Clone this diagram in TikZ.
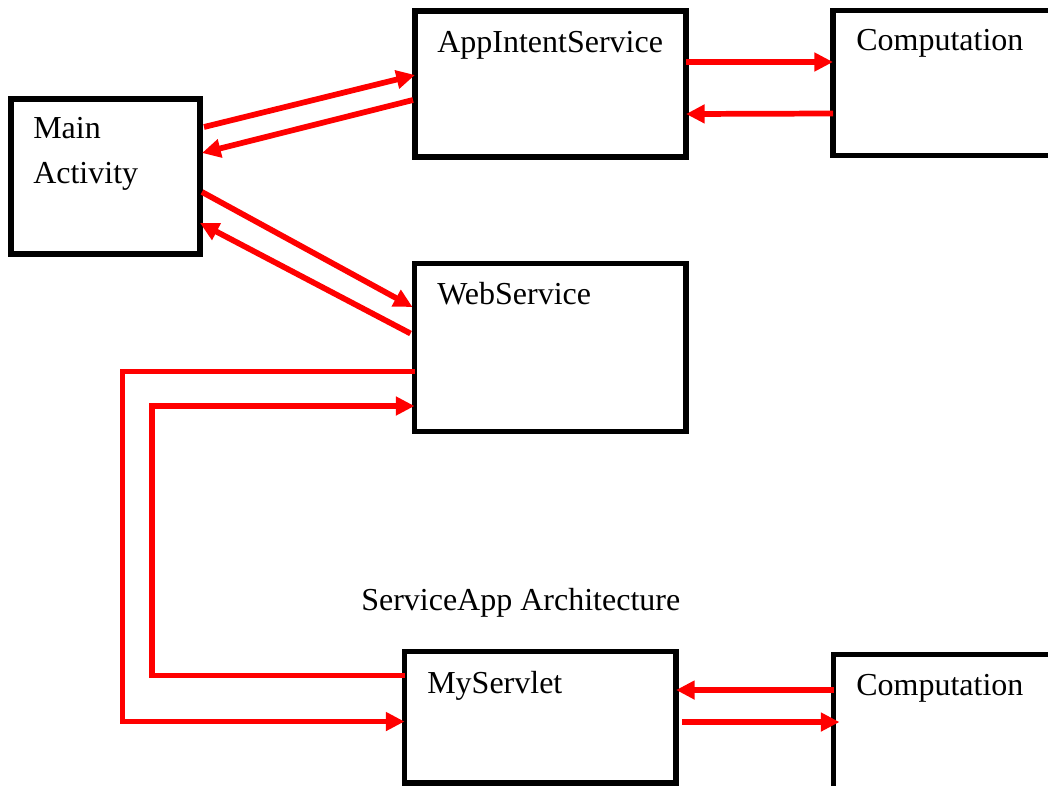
\documentclass[tikz,border=0pt]{standalone}
\usepackage{fontspec}
\setmainfont{Liberation Serif}
\usetikzlibrary{arrows.meta}

\tikzset{
  blk/.style={draw=black, line width=4.2pt, outer sep=0pt, inner sep=0pt},
  txt/.style={anchor=base west, inner sep=0pt, align=left, font=\fontsize{24}{33.75}\selectfont},
  flow/.style={draw=red, line width=4.3pt, -{Triangle[length=14pt,width=13.5pt]}},
}

\begin{document}
\begin{tikzpicture}[x=0.75pt, y=-0.75pt]
	\clip (0,0) rectangle (1048,785);

	\node[blk, minimum width=141.75pt, minimum height=116.25pt] (main) at (105.5,176.5) {};
	\node[blk, minimum width=203.25pt, minimum height=109.5pt] (app) at (550.5,84) {};
	\node[blk, minimum width=187.5pt, minimum height=108.75pt] (compA) at (958,83) {};
	\node[blk, minimum width=203.6pt, minimum height=126pt] (web) at (550.25,347.5) {};
	\node[blk, minimum width=203.6pt, minimum height=98.6pt] (srv) at (540.25,717.25) {};
	\node[blk, minimum width=187.1pt, minimum height=109.1pt] (compB) at (958.25,727.25) {};

	\node[txt] (mainlbl) at ([shift={(22,84)}]main.north west) {Main\\Activity};
	\node[txt] (applbl) at ([shift={(22,41)}]app.north west) {AppIntentService};
	\node[txt] (compAlbl) at ([shift={(23,39.5)}]compA.north west) {Computation};
	\node[txt] (weblbl) at ([shift={(22.5,40.5)}]web.north west) {WebService};
	\node[txt] (srvlbl) at ([shift={(22.5,41.5)}]srv.north west) {MyServlet};
	\node[txt] (compBlbl) at ([shift={(22.5,40.5)}]compB.north west) {Computation};
	\node[txt] (title) at (361,610) {ServiceApp Architecture};

	\path ([shift={(4,28)}]main.north east) edge[flow] ([shift={(0,64)}]app.north west);
	\path ([shift={(-2,89)}]app.north west) edge[flow] ([shift={(2,54)}]main.north east);
	\path ([shift={(0,51)}]app.north east) edge[flow] ([shift={(0,51.5)}]compA.north west);
	\path ([shift={(0,103)}]compA.north west) edge[flow] ([shift={(0,103)}]app.north east);
	\path ([shift={(2,93)}]main.north east) edge[flow] ([shift={(-2,43.5)}]web.north west);
	\path ([shift={(-4,70)}]web.north west) edge[flow] ([shift={(0,124)}]main.north east);
	\path ([shift={(0,35.5)}]compB.north west) edge[flow] ([shift={(0,38.5)}]srv.north east);
	\path ([shift={(6,70.5)}]srv.north east) edge[flow] ([shift={(6,67.5)}]compB.north west);

	\draw[flow] ([shift={(0,108)}]web.north west) -- ++(-292,0) |- ([shift={(0,70)}]srv.north west);
	\draw[flow] ([shift={(0,24)}]srv.north west) -- ++(-252.5,0) |- ([shift={(0,142.5)}]web.north west);

\end{tikzpicture}
\end{document}
